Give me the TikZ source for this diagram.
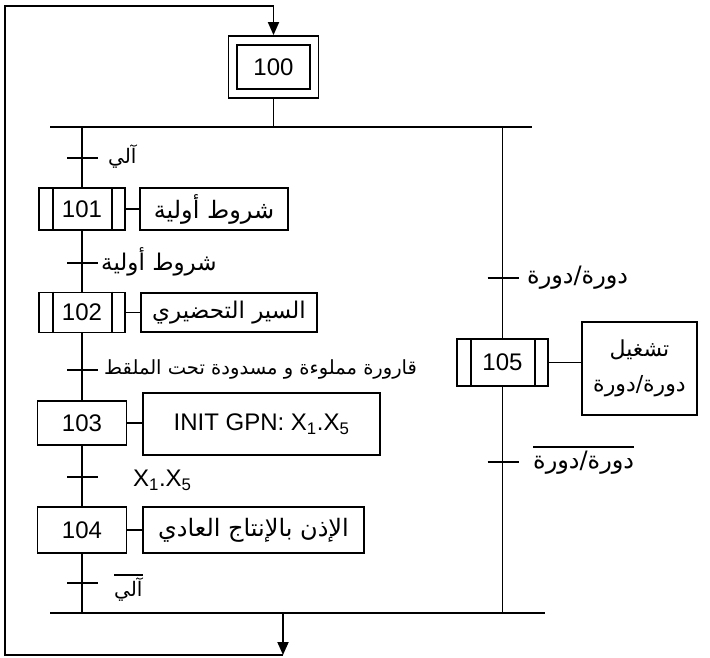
\documentclass[tikz,border=0pt]{standalone}
\usepackage{fontspec}
\setmainfont{Liberation Sans}
\newfontfamily\arabicfont[Script=Arabic]{DejaVu Sans}
\TeXXeTstate=1
\usetikzlibrary{arrows.meta}
\newcommand{\artext}[1]{{\arabicfont\beginR #1\endR}}

\tikzset{
  grafline/.style={line width=1.8pt},
  stepbox/.style={draw, line width=1.8pt, inner sep=0pt, font=\fontsize{24}{28}\selectfont},
  actbox/.style={draw, line width=1.8pt, inner sep=0pt, align=center, font=\fontsize{24}{30}\selectfont},
  condlabel/.style={anchor=west, inner sep=0pt, font=\fontsize{23}{26}\selectfont},
  tickmark/.style={line width=1.8pt},
  bigtip/.style={-{Triangle[width=11pt,length=13pt]}}
}

\begin{document}
\begin{tikzpicture}[x=1pt,y=-1pt]
\useasboundingbox (0,0) rectangle (710,658);

% initial step
\node[stepbox, minimum width=73pt, minimum height=44pt] (s100) at (273.5,67) {100};
\node[stepbox, minimum width=90pt, minimum height=62pt] (s100o) at (s100) {};

% divergence and convergence lines
\coordinate (divL) at (50,127);
\coordinate (divR) at (532,127);
\coordinate (convL) at (50,613);
\coordinate (convR) at (545,613);
\draw[grafline] (divL) -- (divR);
\draw[grafline] (convL) -- (convR);
\draw[grafline] (s100o.south) -- (s100o |- divL);

% steps, left branch
\node[stepbox, minimum width=86pt, minimum height=42pt] (s101) at (82,209) {101};
\node[stepbox, minimum width=86pt, minimum height=40pt] (s102) at (82,312.5) {102};
\node[stepbox, minimum width=89pt, minimum height=44pt] (s103) at (82,423) {103};
\node[stepbox, minimum width=89pt, minimum height=46pt] (s104) at (82,530) {104};
% step, right branch
\node[stepbox, minimum width=91pt, minimum height=47pt] (s105) at (502.5,362.5) {105};

% macro steps
\foreach \st in {s101,s102,s105}{
  \draw[grafline] ([xshift=15pt]\st.north west) -- ([xshift=15pt]\st.south west);
  \draw[grafline] ([xshift=-14pt]\st.north east) -- ([xshift=-14pt]\st.south east);
}

% actions
\node[actbox, minimum width=148pt, minimum height=42pt] (a101) at (214,209) {\artext{شروط أولية}};
\node[actbox, minimum width=176pt, minimum height=39pt, font=\fontsize{23}{28}\selectfont] (a102) at (229,312.5) {\artext{السير التحضيري}};
\node[actbox, minimum width=237pt, minimum height=62pt] (a103) at (261.5,424) {INIT GPN: X\textsubscript{1}.X\textsubscript{5}};
\node[actbox, minimum width=221pt, minimum height=46pt] (a104) at (253.5,530) {\artext{الإذن بالإنتاج العادي}};
\node[actbox, minimum width=115pt, minimum height=93pt, font=\fontsize{22}{35}\selectfont] (a105) at (639.5,368.5) {\artext{تشغيل}\\\artext{دورة/دورة}};

\foreach \st/\ac in {s101/a101,s102/a102,s103/a103,s104/a104,s105/a105}
  \draw[grafline] (\st.east) -- (\st.east -| \ac.west);

% links
\draw[grafline] (s101 |- divL) -- (s101.north);
\draw[grafline] (s101) -- (s102);
\draw[grafline] (s102) -- (s103);
\draw[grafline] (s103) -- (s104);
\draw[grafline] (s104.south) -- (s104 |- convL);
\draw[grafline] (s105 |- divL) -- (s105.north);
\draw[grafline] (s105.south) -- (s105 |- convL);

% transitions
\coordinate (t1) at (82,158);
\coordinate (t2) at (82,263);
\coordinate (t3) at (82,370);
\coordinate (t4) at (82,477);
\coordinate (t5) at (82,583);
\coordinate (t6) at (502.5,278);
\coordinate (t7) at (502.5,462);
\foreach \tr in {t1,t2,t3,t4,t5,t6,t7}
  \draw[tickmark] ([xshift=-15pt]\tr) -- ([xshift=16pt]\tr);

\node[condlabel, font=\fontsize{20}{22}\selectfont] (c1) at (108,157) {\artext{آلي}};
\node[condlabel] (c2) at (101,262) {\artext{شروط أولية}};
\node[condlabel, font=\fontsize{19.5}{22}\selectfont] (c3) at (104,369) {\artext{قارورة مملوءة و مسدودة تحت الملقط}};
\node[condlabel, font=\fontsize{24}{28}\selectfont] (c4) at (133,480) {X\textsubscript{1}.X\textsubscript{5}};
\node[condlabel, font=\fontsize{20}{22}\selectfont] (c5) at (114,590) {\artext{آلي}};
\node[condlabel, font=\fontsize{24}{26}\selectfont] (c6) at (527,278) {\artext{دورة/دورة}};
\node[condlabel, font=\fontsize{24}{26}\selectfont] (c7) at (533,463) {\artext{دورة/دورة}};
\draw[grafline] ([yshift=3pt]c5.north west) -- ([yshift=3pt]c5.north east);
\draw[grafline] ([yshift=4pt]c7.north west) -- ([yshift=4pt]c7.north east);

% loop back to the initial step
\coordinate (conv) at (283,613);
\coordinate (convEnd) at (283,655);
\coordinate (loopB) at (5,655);
\coordinate (loopT) at (5,6);
\draw[grafline, bigtip] (conv) -- (convEnd);
\draw[grafline, bigtip] (convEnd) -- (loopB) -- (loopT) -- (loopT -| s100o.north) -- (s100o.north);

\end{tikzpicture}
\end{document}
